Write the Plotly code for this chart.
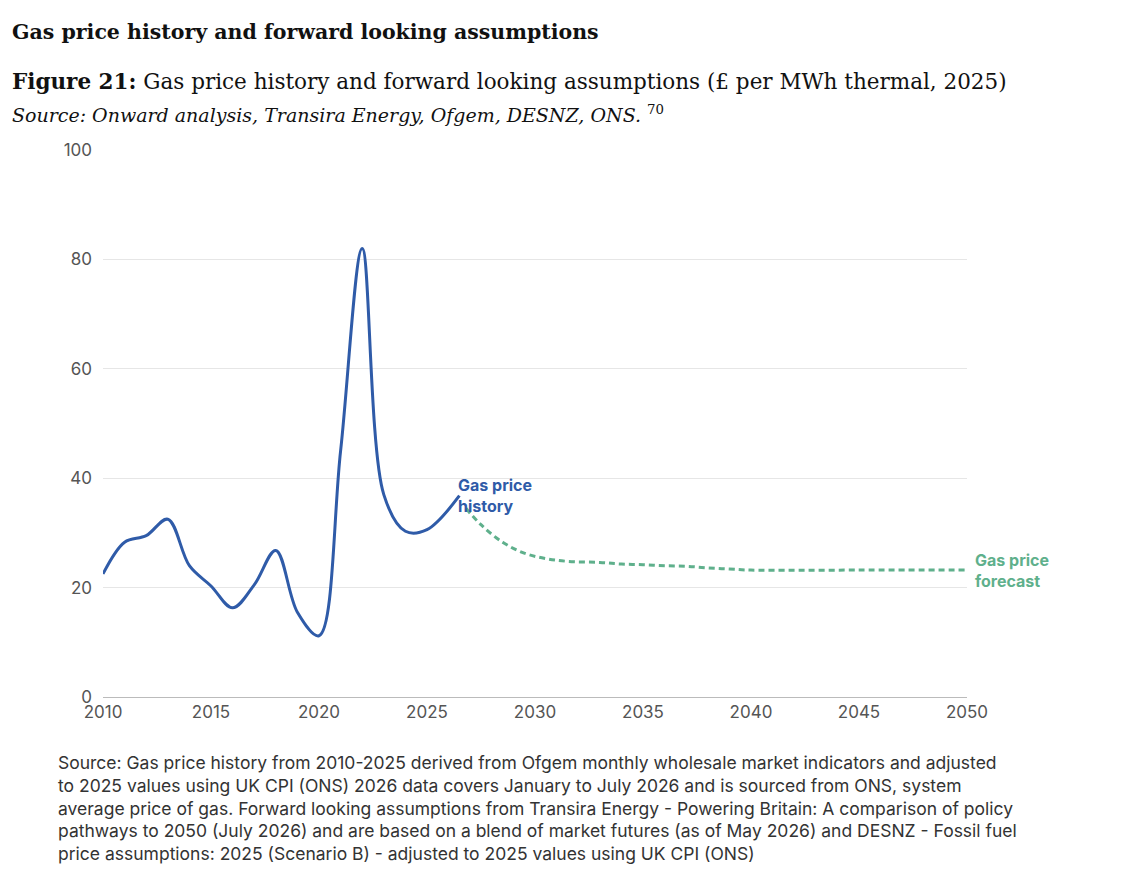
import plotly.graph_objects as go

hist_years = [2010, 2011, 2012, 2013, 2014, 2015, 2016, 2017, 2018, 2019, 2020, 2021, 2022, 2023, 2024, 2025, 2026.5]
hist_price = [22.5, 28.3, 29.5, 32.5, 24, 20.3, 16.3, 20.5, 26.8, 15.5, 11.2, 45, 82, 37, 30.3, 30.6, 36.8]

fc_years = [2026.8, 2027.5, 2028.5, 2029.5, 2030.5, 2031.5, 2033, 2034, 2035, 2036, 2037, 2038, 2039, 2040, 2045, 2050]
fc_price = [34.5, 31.5, 28.3, 26.3, 25.3, 24.8, 24.6, 24.3, 24.2, 24.0, 23.9, 23.6, 23.4, 23.2, 23.2, 23.2]

blue = "#2f5ba8"
green = "#5fb08c"
sans = "Inter, Open Sans, sans-serif"
serif = "DejaVu Serif, serif"

# page is drawn 8px in from the window corner, so pixel targets are shifted by 8
OFF = 8
L, R, T, B = 103 - OFF, 174 + OFF, 150 - OFF, 189 + OFF
pw = 1141 - L - R
ph = 886 - T - B


def px_x(p):
    return (p - OFF - L) / pw


def px_y(p):
    return (886 - B - (p - OFF)) / ph


fig = go.Figure()
fig.add_trace(go.Scatter(x=hist_years, y=hist_price, mode="lines",
                         line=dict(color=blue, width=3, shape="spline", smoothing=1.0)))
fig.add_trace(go.Scatter(x=fc_years, y=fc_price, mode="lines",
                         line=dict(color=green, width=3, dash="6px,4px", shape="spline")))

fig.add_annotation(x=2026.5, y=36.8, text="<b>Gas price<br>history</b>", showarrow=False,
                   xanchor="left", yanchor="middle", xshift=-3, align="left",
                   font=dict(family=sans, size=16, color=blue))
fig.add_annotation(x=2050, y=23.2, text="<b>Gas price<br>forecast</b>", showarrow=False,
                   xanchor="left", yanchor="middle", xshift=6, align="left",
                   font=dict(family=sans, size=16, color=green))

fig.add_annotation(xref="paper", yref="paper", x=px_x(10), y=px_y(32), xanchor="left", yanchor="middle",
                   showarrow=False, text="<b>Gas price history and forward looking assumptions</b>",
                   font=dict(family=serif, size=20.5, color="#111"))
fig.add_annotation(xref="paper", yref="paper", x=px_x(10), y=px_y(82), xanchor="left", yanchor="middle",
                   showarrow=False,
                   text="<b>Figure 21:</b> Gas price history and forward looking assumptions (£ per MWh thermal, 2025)",
                   font=dict(family=serif, size=21.5, color="#111"))
fig.add_annotation(xref="paper", yref="paper", x=px_x(10), y=px_y(114), xanchor="left", yanchor="middle",
                   showarrow=False,
                   text="<i>Source: Onward analysis, Transira Energy, Ofgem, DESNZ, ONS.</i> <sup>70</sup>",
                   font=dict(family=serif, size=19, color="#111"))
fig.add_annotation(xref="paper", yref="paper", x=px_x(56), y=px_y(750), xanchor="left", yanchor="top",
                   showarrow=False, align="left",
                   text=("Source: Gas price history from 2010-2025 derived from Ofgem monthly wholesale market indicators and adjusted<br>"
                         "to 2025 values using UK CPI (ONS) 2026 data covers January to July 2026 and is sourced from ONS, system<br>"
                         "average price of gas. Forward looking assumptions from Transira Energy - Powering Britain: A comparison of policy<br>"
                         "pathways to 2050 (July 2026) and are based on a blend of market futures (as of May 2026) and DESNZ - Fossil fuel<br>"
                         "price assumptions: 2025 (Scenario B) - adjusted to 2025 values using UK CPI (ONS)"),
                   font=dict(family=sans, size=17.5, color="#333"))

fig.update_layout(
    width=1141, height=886, paper_bgcolor="white", plot_bgcolor="white",
    margin=dict(l=L, r=R, t=T, b=B, autoexpand=False), showlegend=False,
    font=dict(family=sans, size=17, color="#555"),
)
fig.update_xaxes(range=[2010, 2050], tickvals=list(range(2010, 2051, 5)), showgrid=False,
                 showline=True, linecolor="#bbb", ticks="", zeroline=False, automargin=False)
fig.update_yaxes(range=[0, 100], tickvals=[0, 20, 40, 60, 80, 100], gridcolor="#e6e6e6",
                 zeroline=False, ticks="", ticklabelstandoff=10, automargin=False)

fig.write_html("out.html")
